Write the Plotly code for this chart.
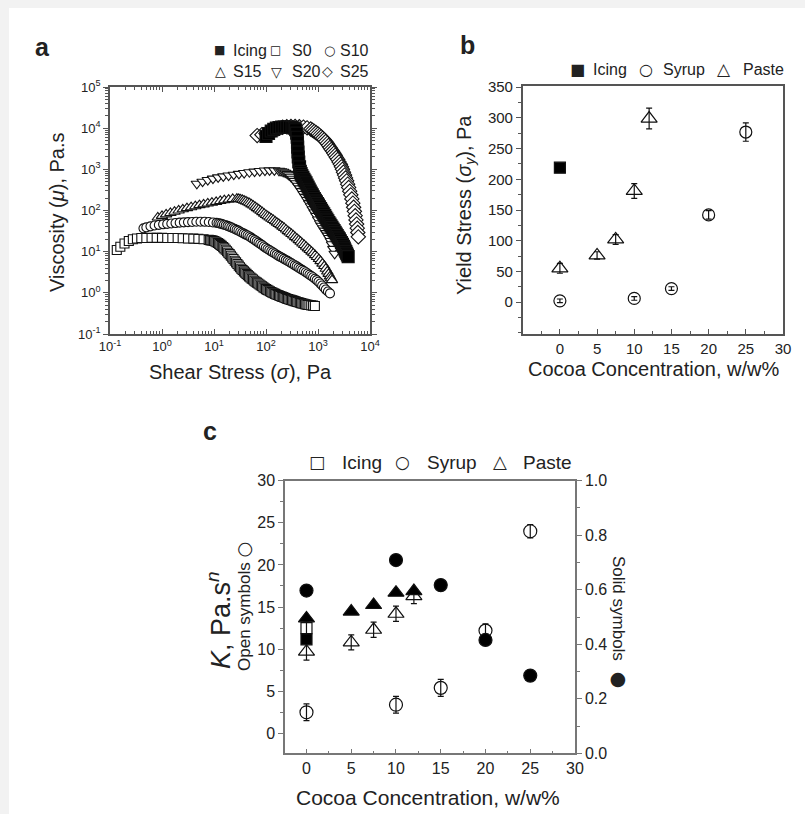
import plotly.graph_objects as go

FIG_W, FIG_H = 805, 814
FONT = "Liberation Sans, Arial, sans-serif"
SYM_FONT = "DejaVu Sans"
INK = "#222222"

# ---------------- panel a: viscosity vs shear stress ----------------
s0_stress = [0.135, 0.158, 0.19, 0.23, 0.275, 0.33, 0.40, 0.50, 0.63, 0.79,
             1.0, 1.26, 1.58, 2.0, 2.5, 3.16, 4.0, 5.0, 6.3, 7.9,
             8.41, 8.91, 9.44, 10, 10.6, 11.2, 11.9, 12.6, 13.3, 14.1,
             15.0, 15.8, 16.8, 17.8, 18.8, 20, 21.1, 22.4, 23.7, 25.1,
             26.6, 28.2, 29.9, 31.6, 33.5, 35.5, 37.6, 39.8, 42.2, 44.7,
             47.3, 50.1, 53.1, 56.2, 59.6, 63.1, 66.8, 70.8, 75.0, 79.4,
             84.1, 89.1, 94.4, 100, 106, 112, 119, 126, 133, 141,
             150, 158, 168, 178, 188, 200, 211, 224, 237, 251,
             266, 282, 299, 316, 335, 355, 376, 398, 422, 447,
             473, 501, 531, 562, 596, 631, 684, 741, 804, 871]
s0_visc = [11.0, 13.2, 15.8, 18.2, 20.0, 20.9, 21.4, 21.4, 21.6, 21.6,
           21.6, 21.4, 21.4, 21.4, 21.1, 20.9, 20.7, 20.4, 20.0, 19.3,
           19.1, 18.8, 18.6, 18.2, 17.6, 17.0, 16.2, 15.5, 14.6, 13.8,
           12.9, 12.0, 11.1, 10.2, 9.44, 8.7, 7.94, 7.2, 6.61, 6.0,
           5.50, 5.0, 4.57, 4.2, 3.86, 3.6, 3.33, 3.1, 2.88, 2.7,
           2.51, 2.35, 2.21, 2.1, 1.97, 1.86, 1.77, 1.68, 1.59, 1.51,
           1.44, 1.36, 1.29, 1.23, 1.18, 1.14, 1.09, 1.05, 1.01, 0.98,
           0.944, 0.91, 0.887, 0.86, 0.838, 0.81, 0.791, 0.77, 0.746, 0.72,
           0.708, 0.69, 0.676, 0.66, 0.646, 0.63, 0.617, 0.60, 0.589, 0.575,
           0.562, 0.55, 0.541, 0.53, 0.522, 0.51, 0.505, 0.495, 0.488, 0.48]

s10_stress = [0.44, 0.50, 0.60, 0.72, 0.87, 1.05, 1.26, 1.51, 1.82, 2.19,
              2.63, 3.16, 3.80, 4.57, 5.50, 6.61, 7.94, 9.55, 11.2, 12.2,
              13.2, 14.3, 15.5, 16.8, 18.2, 19.7, 21.4, 23.2, 25.1, 27.2,
              29.5, 32.0, 34.7, 37.6, 40.7, 44.2, 47.9, 51.9, 56.2, 61.0,
              66.1, 71.6, 77.6, 84.1, 91.2, 98.9, 107, 116, 126, 136,
              148, 160, 174, 188, 204, 221, 240, 260, 282, 305,
              331, 359, 389, 422, 457, 495, 537, 582, 631, 684,
              741, 804, 871, 944, 1020, 1110, 1200, 1300, 1410, 1550,
              1700]
s10_visc = [36.8, 38.9, 41.2, 43.2, 44.7, 46.2, 47.3, 48.4, 49.5, 50.7,
            51.5, 52.2, 52.7, 53.2, 53.3, 53.1, 52.5, 51.3, 50.1, 49.0,
            47.9, 46.6, 45.2, 43.7, 42.2, 40.6, 38.9, 37.2, 35.5, 33.9,
            32.4, 30.5, 28.8, 27.4, 26.0, 24.7, 23.4, 21.9, 20.4, 19.1,
            17.8, 16.6, 15.5, 14.4, 13.3, 12.4, 11.6, 10.9, 10.2, 9.60,
            9.0, 8.45, 7.9, 7.50, 7.1, 6.68, 6.3, 5.96, 5.6, 5.27,
            4.95, 4.65, 4.4, 4.09, 3.85, 3.61, 3.4, 3.16, 2.95, 2.75,
            2.57, 2.39, 2.2, 2.04, 1.86, 1.68, 1.51, 1.35, 1.2, 1.08,
            0.97]

s15_stress = [0.83, 1.00, 1.20, 1.45, 1.74, 2.09, 2.51, 3.02, 3.63, 4.37,
              5.25, 6.31, 7.59, 9.12, 11.0, 13.2, 15.8, 19.1, 22.9, 27.5,
              29.9, 32.4, 35.1, 38.0, 41.2, 44.7, 48.4, 52.5, 56.9, 61.7,
              66.8, 72.4, 78.5, 85.1, 92.3, 100, 108, 117, 127, 138,
              150, 162, 176, 191, 207, 224, 243, 263, 285, 309,
              335, 363, 394, 427, 462, 501, 543, 589, 638, 692,
              750, 813, 881, 955, 1040, 1120, 1220, 1320, 1410, 1510,
              1600, 1700, 1780, 1860]
s15_visc = [67.6, 74.1, 80.4, 87.1, 93.3, 100, 107, 114, 120, 127,
            135, 141, 148, 155, 162, 170, 178, 184, 191, 193,
            191, 186, 181, 174, 167, 158, 150, 141, 132, 123,
            114, 106, 98.4, 91.2, 84.1, 77.6, 72.4, 67.6, 63.1, 58.9,
            54.7, 50.7, 47.0, 43.7, 40.6, 37.6, 34.5, 31.6, 29.2, 26.9,
            24.7, 22.6, 20.8, 19.1, 17.4, 15.8, 14.5, 13.2, 12.0, 11.0,
            10.0, 9.12, 8.22, 7.41, 6.61, 5.89, 5.13, 4.47, 3.85, 3.31,
            2.88, 2.51, 2.26, 2.04]

s20_stress = [4.68, 6.03, 7.59, 9.55, 12.0, 15.1, 19.1, 24.0, 30.2, 38.0,
              47.9, 60.3, 75.9, 95.5, 117, 145, 178, 195, 214, 234,
              257, 279, 302, 327, 355, 385, 417, 452, 490, 531,
              575, 624, 676, 733, 794, 861, 933, 1010, 1100, 1170,
              1260, 1350, 1450, 1550, 1660, 1760, 1860, 1970, 2090]
s20_visc = [447, 501, 550, 596, 638, 676, 708, 741, 776, 813,
            851, 881, 912, 933, 944, 944, 923, 902, 871, 828,
            776, 719, 661, 592, 525, 459, 398, 344, 295, 251,
            214, 180, 151, 127, 107, 89.1, 74.1, 60.3, 49.0, 42.7,
            37.0, 32.4, 28.2, 24.5, 21.4, 18.2, 15.1, 11.7, 8.9]

s25_stress = [67.6, 83.2, 100, 120, 145, 174, 209, 251, 302, 363,
              437, 525, 617, 724, 785, 851, 923, 1000, 1070, 1150,
              1230, 1320, 1410, 1510, 1600, 1700, 1800, 1910, 2020, 2140,
              2260, 2400, 2540, 2690, 2820, 2950, 3090, 3240, 3390, 3550,
              3720, 3890, 4070, 4270, 4470, 4680, 4840, 5010, 5190, 5370,
              5530, 5690, 5820, 5960]
s25_visc = [6610, 6920, 7410, 8130, 8910, 9770, 10500, 10800, 11000, 11000,
            10800, 10600, 10200, 9550, 8910, 8320, 7760, 7240, 6680, 6170,
            5690, 5250, 4730, 4270, 3800, 3390, 3050, 2750, 2450, 2190,
            1950, 1740, 1510, 1320, 1150, 1000, 851, 724, 617, 525,
            437, 363, 295, 240, 191, 151, 120, 95.5, 75.0, 58.9,
            46.8, 37.2, 29.2, 22.9]

icing_stress = [100, 112, 126, 141, 158, 178, 200, 224, 251, 282,
                316, 347, 372, 389, 398, 403, 407, 412, 417, 427,
                442, 457, 473, 490, 513, 537, 562, 589, 617, 646,
                676, 708, 741, 776, 813, 851, 891, 933, 977, 1020,
                1070, 1120, 1170, 1230, 1290, 1350, 1410, 1480, 1550, 1620,
                1700, 1780, 1860, 1950, 2040, 2140, 2240, 2340, 2450, 2570,
                2690, 2820, 2950, 3090, 3200, 3310, 3430, 3550, 3670, 3800]
icing_visc = [6310, 7410, 8510, 9330, 10000, 10350, 10600, 10700, 10700, 10600,
              10350, 10000, 9120, 7590, 6030, 4570, 3470, 2630, 2000, 1510,
              1150, 891, 794, 708, 638, 575, 519, 468, 417, 372,
              331, 295, 266, 240, 216, 195, 178, 162, 148, 135,
              123, 112, 101, 91.2, 83.2, 75.9, 68.4, 61.7, 56.2, 51.3,
              46.8, 42.7, 38.9, 35.5, 32.4, 29.5, 26.9, 24.5, 22.4, 20.4,
              18.4, 16.6, 15.0, 13.5, 12.2, 11.0, 10.0, 9.12, 8.32, 7.59]

log_tick_vals_x = [0.1, 1, 10, 100, 1000, 10000]
log_tick_text_x = ["10<sup>-1</sup>", "10<sup>0</sup>", "10<sup>1</sup>", "10<sup>2</sup>",
                   "10<sup>3</sup>", "10<sup>4</sup>"]
log_tick_vals_y = [0.1, 1, 10, 100, 1000, 10000, 100000]
log_tick_text_y = ["10<sup>-1</sup>", "10<sup>0</sup>", "10<sup>1</sup>", "10<sup>2</sup>",
                   "10<sup>3</sup>", "10<sup>4</sup>", "10<sup>5</sup>"]

# ---------------- panel b: yield stress ----------------
icing_conc_b = [0]
icing_yield = [219]
icing_yield_err = [5]
syrup_conc = [0, 10, 15, 20, 25]
syrup_yield = [2, 6, 22, 142, 277]
syrup_yield_err = [3, 3, 3, 7, 15]
paste_conc = [0, 5, 7.5, 10, 12]
paste_yield = [55, 76, 102, 181, 299]
paste_yield_err = [8, 6, 8, 12, 17]

# ---------------- panel c: power-law K (open) and n (solid) ----------------
icing_conc_c = [0]
icing_k = [12.5]
icing_k_err = [1.0]
syrup_k = [2.5, 3.4, 5.4, 12.2, 24.0]
syrup_k_err = [1.0, 1.0, 1.0, 0.8, 0.8]
paste_k = [9.7, 10.8, 12.3, 14.2, 16.3]
paste_k_err = [1.0, 0.9, 0.9, 0.9, 0.9]
icing_n = [0.418]
syrup_n = [0.597, 0.709, 0.617, 0.416, 0.285]
paste_n = [0.495, 0.520, 0.544, 0.589, 0.595]
n_err = 0.01


def xp(px):
    return px / FIG_W


def yp(py):
    return 1 - py / FIG_H


fig = go.Figure()


def flow_curve(x, y, symbol, size, fill="white"):
    fig.add_trace(go.Scatter(
        x=x, y=y, mode="markers", xaxis="x", yaxis="y", showlegend=False,
        marker=dict(symbol=symbol, size=size, color=fill,
                    line=dict(color="#111", width=1.1)),
    ))


flow_curve(s0_stress, s0_visc, "square", 9)
flow_curve(s10_stress, s10_visc, "circle", 9)
flow_curve(s15_stress, s15_visc, "triangle-up", 10)
flow_curve(s20_stress, s20_visc, "triangle-down", 10)
flow_curve(s25_stress, s25_visc, "diamond", 11)
flow_curve(icing_stress, icing_visc, "square", 12, fill="black")


def point_set(x, y, err, symbol, size, xa, ya, filled=False):
    fig.add_trace(go.Scatter(
        x=x, y=y, mode="markers", xaxis=xa, yaxis=ya, showlegend=False,
        error_y=dict(type="data", array=err, color="#111", thickness=1.2, width=3),
        marker=dict(symbol=symbol, size=size,
                    color="black" if filled else "rgba(0,0,0,0)",
                    line=dict(color="#111", width=1.2)),
    ))


# panel b
point_set(icing_conc_b, icing_yield, icing_yield_err, "square", 11, "x2", "y2", filled=True)
point_set(syrup_conc, syrup_yield, syrup_yield_err, "circle", 12, "x2", "y2")
point_set(paste_conc, paste_yield, paste_yield_err, "triangle-up", 14, "x2", "y2")

# panel c: open symbols on the K axis
point_set(icing_conc_c, icing_k, icing_k_err, "square", 11, "x3", "y3")
point_set(syrup_conc, syrup_k, syrup_k_err, "circle", 13, "x3", "y3")
point_set(paste_conc, paste_k, paste_k_err, "triangle-up", 14, "x3", "y3")
# panel c: solid symbols on the n axis
point_set(icing_conc_c, icing_n, [n_err], "square", 11, "x3", "y4", filled=True)
point_set(syrup_conc, syrup_n, [n_err] * len(syrup_n), "circle", 13, "x3", "y4", filled=True)
point_set(paste_conc, paste_n, [n_err] * len(paste_n), "triangle-up", 14, "x3", "y4", filled=True)


def axis(color="#555", size=15, ticks="outside", **kw):
    base = dict(showline=True, linecolor=color, linewidth=1.5, ticks=ticks, ticklen=5,
                tickwidth=1.2, tickcolor=color, showgrid=False, zeroline=False,
                automargin=False, tickfont=dict(family=FONT, size=size, color=INK))
    base.update(kw)
    return base


def minor(color, dtick, ticks="outside"):
    return dict(ticks=ticks, ticklen=3, tickcolor=color, dtick=dtick, tick0=0)


fig.update_layout(
    template="none",
    width=FIG_W, height=FIG_H, autosize=False,
    margin=dict(l=0, r=0, t=0, b=0, pad=0),
    paper_bgcolor="#f2f2f2", plot_bgcolor="white", showlegend=False,
    font=dict(family=FONT, color=INK),
    xaxis=axis(domain=[xp(110), xp(370)], anchor="y", type="log", range=[-1, 4], mirror="ticks",
               ticks="inside", tickvals=log_tick_vals_x, ticktext=log_tick_text_x, size=13,
               minor=dict(ticks="inside", ticklen=3, tickcolor="#555", dtick="D1")),
    yaxis=axis(domain=[yp(334), yp(87)], anchor="x", type="log", range=[-1, 5], mirror="ticks",
               tickvals=log_tick_vals_y, ticktext=log_tick_text_y, size=13,
               minor=dict(ticks="outside", ticklen=3, tickcolor="#555", dtick="D1")),
    xaxis2=axis(domain=[xp(522.7), xp(783)], anchor="y2", range=[-5, 30], mirror=True,
                ticks="inside", tickvals=[0, 5, 10, 15, 20, 25, 30],
                minor=minor("#555", 2.5, "inside")),
    yaxis2=axis(domain=[yp(334), yp(86)], anchor="x2", range=[-52, 352], mirror=True,
                tickvals=[0, 50, 100, 150, 200, 250, 300, 350], minor=minor("#555", 25)),
    xaxis3=axis(color="#777", size=16, domain=[xp(285), xp(575)], anchor="y3", range=[-2.4, 30],
                mirror=True, ticks="inside", tickvals=[0, 5, 10, 15, 20, 25, 30],
                minor=minor("#777", 2.5, "inside")),
    yaxis3=axis(color="#777", size=16, domain=[yp(753.3), yp(480.7)], anchor="x3",
                range=[-2.37, 30], tickvals=[0, 5, 10, 15, 20, 25, 30], minor=minor("#777", 2.5)),
    yaxis4=axis(color="#777", size=16, overlaying="y3", side="right", anchor="x3",
                range=[0, 1], tickvals=[0, 0.2, 0.4, 0.6, 0.8, 1.0], tickformat=".1f",
                minor=minor("#777", 0.1)),
)

# white sheet behind the figure
fig.add_shape(type="rect", xref="paper", yref="paper", x0=xp(9), x1=1, y0=0, y1=yp(8),
              fillcolor="white", line=dict(width=0), layer="below")

annotations = []


def label(text, x, y, size, angle=0, bold=False, xanchor="center", family=FONT):
    annotations.append(dict(
        text=f"<b>{text}</b>" if bold else text, x=xp(x), y=yp(y), xref="paper", yref="paper",
        showarrow=False, textangle=angle, xanchor=xanchor, yanchor="middle", borderpad=0,
        font=dict(family=family, size=size, color=INK),
    ))


# panel letters
label("a", 42, 47, 25, bold=True)
label("b", 467, 45, 25, bold=True)
label("c", 210, 431, 25, bold=True)

# axis titles
label("Viscosity (<i>μ</i>), Pa.s", 57, 212, 20, angle=-90)
label("Shear Stress (<i>σ</i>), Pa", 240, 372, 20)
label("Yield Stress (<i>σ</i><sub><i>y</i></sub>), Pa", 465, 205, 20, angle=-90)
label("Cocoa Concentration, w/w%", 653, 369, 20)
label("Cocoa Concentration, w/w%", 428, 797, 21)
label("<i>K</i>, Pa.s<sup><i>n</i></sup>", 219, 620, 27, angle=-90)
label("Open symbols <span style='font-family:DejaVu Sans;font-size:18px'>○</span>",
      243, 607, 17, angle=-90)
label("Solid symbols <span style='font-family:DejaVu Sans;font-size:19px'> ●</span>",
      620, 622, 17, angle=90)

# legend rows
legend_a = [("■", 219, 50, 12), ("□", 275, 50, 12), ("○", 329, 50, 13),
            ("△", 220, 71, 14), ("▽", 276, 72, 14), ("◇", 327, 71, 14)]
legend_a_text = [("Icing", 232, 50), ("S0", 291, 50), ("S10", 339, 50),
                 ("S15", 232, 71), ("S20", 291, 71), ("S25", 339, 71)]
for s, x, y, sz in legend_a:
    label(s, x, y, sz, family=SYM_FONT)
for t, x, y in legend_a_text:
    label(t, x, y, 16, xanchor="left")

legend_b = [("■", 577, 70, 16), ("○", 646, 70, 16), ("△", 724, 69, 17)]
legend_b_text = [("Icing", 592, 70), ("Syrup", 662, 70), ("Paste", 742, 70)]
for s, x, y, sz in legend_b:
    label(s, x, y, sz, family=SYM_FONT)
for t, x, y in legend_b_text:
    label(t, x, y, 16, xanchor="left")

legend_c = [("□", 317, 462, 17), ("○", 402, 462, 17), ("△", 500, 461, 18)]
legend_c_text = [("Icing", 341, 462), ("Syrup", 426, 462), ("Paste", 522, 462)]
for s, x, y, sz in legend_c:
    label(s, x, y, sz, family=SYM_FONT)
for t, x, y in legend_c_text:
    label(t, x, y, 19, xanchor="left")

fig.update_layout(annotations=annotations)

fig.write_html("out.html")
